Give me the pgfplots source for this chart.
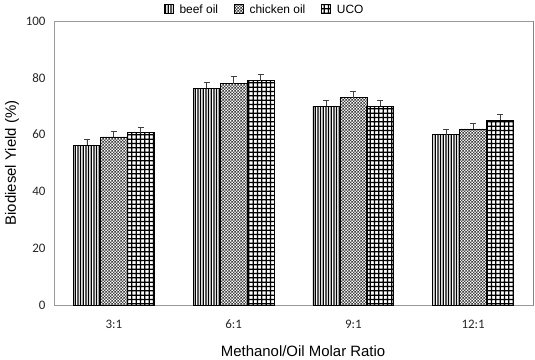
\documentclass[border=0pt]{standalone}
\usepackage{pgfplots}
\pgfplotsset{compat=1.18}
\usepackage{fontspec}
\setmainfont{Liberation Sans}
\newfontfamily\tickfont{Carlito}
\usetikzlibrary{patterns}
\pgfdeclarepatternformonly{vlines}{\pgfpoint{0pt}{0pt}}{\pgfpoint{8.4pt}{8.4pt}}{\pgfpoint{8.4pt}{8.4pt}}{%
  \pgfsetlinewidth{1.35pt}%
  \foreach \p in {1.4,4.2,7.0}{%
    \pgfpathmoveto{\pgfpoint{\p pt}{0pt}}\pgfpathlineto{\pgfpoint{\p pt}{8.4pt}}}%
  \pgfusepath{stroke}}
\pgfdeclarepatternformonly{biggrid}{\pgfpoint{0pt}{0pt}}{\pgfpoint{13.5pt}{13.5pt}}{\pgfpoint{13.5pt}{13.5pt}}{%
  \pgfsetlinewidth{1.3pt}%
  \foreach \p in {2.25,6.75,11.25}{%
    \pgfpathmoveto{\pgfpoint{\p pt}{0pt}}\pgfpathlineto{\pgfpoint{\p pt}{13.5pt}}%
    \pgfpathmoveto{\pgfpoint{0pt}{\p pt}}\pgfpathlineto{\pgfpoint{13.5pt}{\p pt}}}%
  \pgfusepath{stroke}}
\pgfdeclarepatterninherentlycolored{chick}{\pgfpoint{0pt}{0pt}}{\pgfpoint{6pt}{6pt}}{\pgfpoint{6pt}{6pt}}{%
  \pgfsetfillcolor{white}%
  \pgfpathrectangle{\pgfpoint{0pt}{0pt}}{\pgfpoint{6pt}{6pt}}\pgfusepath{fill}%
  \pgfsetfillcolor{black!75}%
  \pgfpathrectangle{\pgfpoint{0pt}{0pt}}{\pgfpoint{1.5pt}{1.5pt}}%
  \pgfpathrectangle{\pgfpoint{3pt}{0pt}}{\pgfpoint{1.5pt}{1.5pt}}%
  \pgfpathrectangle{\pgfpoint{1.5pt}{1.5pt}}{\pgfpoint{1.5pt}{1.5pt}}%
  \pgfpathrectangle{\pgfpoint{4.5pt}{1.5pt}}{\pgfpoint{1.5pt}{1.5pt}}%
  \pgfpathrectangle{\pgfpoint{0pt}{3pt}}{\pgfpoint{1.5pt}{1.5pt}}%
  \pgfpathrectangle{\pgfpoint{3pt}{3pt}}{\pgfpoint{1.5pt}{1.5pt}}%
  \pgfpathrectangle{\pgfpoint{1.5pt}{4.5pt}}{\pgfpoint{1.5pt}{1.5pt}}%
  \pgfpathrectangle{\pgfpoint{4.5pt}{4.5pt}}{\pgfpoint{1.5pt}{1.5pt}}%
  \pgfusepath{fill}}
\begin{document}
\begin{tikzpicture}
\begin{axis}[
  at={(0,0)}, anchor=south west,
  scale only axis,
  width=479bp, height=284bp,
  ybar=0pt,
  bar width=0.225,
  xmin=-0.5, xmax=3.5,
  ymin=0, ymax=100,
  xtick={0,1,2,3},
  xticklabels={3:1,6:1,9:1,12:1},
  ytick={0,20,40,60,80,100},
  major tick length=0pt,
  axis line style={gray!80, line width=0.8pt},
  tick label style={font=\tickfont\fontsize{13}{15}\selectfont, text=black!85},
  /pgf/number format/assume math mode=true,
  xticklabel style={anchor=center, yshift=-19bp},
  yticklabel style={anchor=east, xshift=-5bp},
  xlabel={Methanol/Oil Molar Ratio},
  ylabel={Biodiesel Yield (\%)},
  label style={font=\fontsize{15}{17}\selectfont},
  xlabel style={at={(axis description cs:0.52,0)}, anchor=base, yshift=-51bp},
  ylabel style={at={(axis description cs:-0.0877,0.5)}, anchor=center},
  legend style={at={(axis description cs:0.44,1)}, anchor=south, draw=none, fill=none, legend columns=3,
    font=\fontsize{12}{14}\selectfont, yshift=3bp,
    /tikz/every odd column/.append style={column sep=4bp},
    /tikz/every even column/.append style={column sep=14bp}, inner sep=1bp},
  legend image code/.code={\draw[#1, line width=0.5pt] (0bp,-4bp) rectangle (9bp,5bp);},
  error bars/y dir=plus, error bars/y explicit,
  error bars/error bar style={black!75, line width=0.8pt},
  error bars/error mark options={rotate=90, mark size=3bp, black!75, line width=0.8pt},
]
\addplot[draw=black, line width=0.6pt, pattern=vlines] coordinates {
 (0,56.3) +- (0,2.0)
 (1,76.3) +- (0,2.0)
 (2,70.0) +- (0,2.1)
 (3,60.0) +- (0,2.0)
};
\addplot[draw=black, line width=0.6pt, pattern=chick] coordinates {
 (0,59.2) +- (0,2.1)
 (1,77.9) +- (0,2.5)
 (2,73.0) +- (0,2.2)
 (3,62.0) +- (0,2.0)
};
\addplot[draw=black, line width=1pt, pattern=biggrid] coordinates {
 (0,60.6) +- (0,1.8)
 (1,79.0) +- (0,2.3)
 (2,70.0) +- (0,2.0)
 (3,65.0) +- (0,2.0)
};
\legend{beef oil, chicken oil, UCO}
\draw[black, line width=1pt] (rel axis cs:1,0) -- (rel axis cs:1,1);
\end{axis}
\path[use as bounding box] (-54bp,-52bp) rectangle (481bp,305bp);
\end{tikzpicture}
\end{document}
